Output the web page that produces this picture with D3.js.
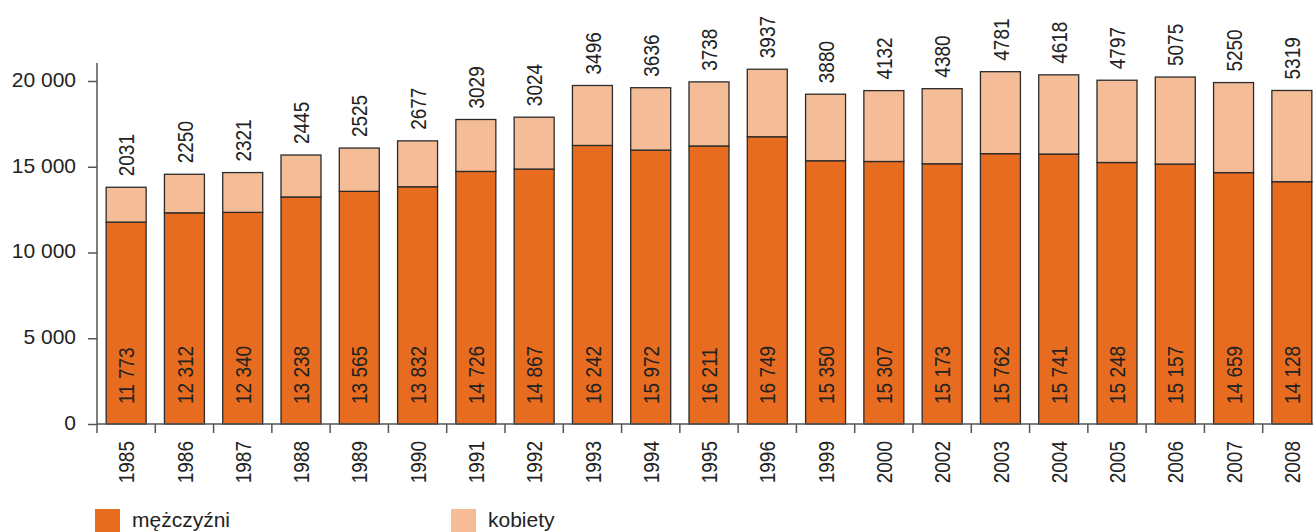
<!DOCTYPE html>
<html>
<head>
<meta charset="utf-8">
<script src="https://cdn.jsdelivr.net/npm/d3@7"></script>
<style>
  html, body { margin: 0; padding: 0; background: #fff; }
  svg { display: block; }
  text { font-family: "Liberation Sans", Arial, Helvetica, sans-serif; fill: #222; }
</style>
</head>
<body>
<svg id="chart" width="1313" height="532"></svg>
<script>
const years = ["1985","1986","1987","1988","1989","1990","1991","1992","1993","1994","1995","1996","1999","2000","2002","2003","2004","2005","2006","2007","2008"];
const men = [11773,12312,12340,13238,13565,13832,14726,14867,16242,15972,16211,16749,15350,15307,15173,15762,15741,15248,15157,14659,14128];
const women = [2031,2250,2321,2445,2525,2677,3029,3024,3496,3636,3738,3937,3880,4132,4380,4781,4618,4797,5075,5250,5319];
const yTicks = [0,5000,10000,15000,20000];
const seriesNames = ["mężczyźni","kobiety"];
const colors = ["#E86C20","#F5BD97"];

const svg = d3.select("#chart");
const x = d3.scaleBand().domain(years).range([97, 1321]).paddingInner(0.314).paddingOuter(0.157);
const y = d3.scaleLinear().domain([0, 20000]).range([424, 81]);
const fmt = v => d3.format(",")(v).replace(/,/g, " ");
const rot = "rotate(-90) scale(1,1.18)";

const rows = years.map((yr, i) => ({year: yr, men: men[i], women: women[i]}));
const stacked = d3.stack().keys(["men","women"])(rows);

// bars
stacked.forEach((s, si) => {
  svg.append("g").selectAll("rect").data(s).join("rect")
    .attr("x", d => x(d.data.year))
    .attr("y", d => y(d[1]))
    .attr("width", x.bandwidth())
    .attr("height", d => y(d[0]) - y(d[1]))
    .attr("fill", colors[si])
    .attr("stroke", "#2b2b2b")
    .attr("stroke-width", 1.3);
});

// y axis
const yAxis = d3.axisLeft(y).tickValues(yTicks).tickSize(9).tickPadding(12).tickFormat(fmt);
const gy = svg.append("g").attr("transform", "translate(97,0)").call(yAxis);
gy.select(".domain").remove();
gy.append("line").attr("x1", 0).attr("x2", 0).attr("y1", 63).attr("y2", 424).attr("stroke", "#555").attr("stroke-width", 1.5);
gy.selectAll(".tick line").attr("stroke", "#555").attr("stroke-width", 1.5);
gy.selectAll(".tick text").style("font-size", "21px").attr("fill", "#222").attr("dy", "0.25em")
  .style("font-family", "'Liberation Sans', Arial, sans-serif");

// x axis
const gx = svg.append("g");
gx.append("line").attr("x1", 97).attr("x2", 1313).attr("y1", y(0)).attr("y2", y(0)).attr("stroke", "#555").attr("stroke-width", 1.5);
const step = x.step();
const bounds = years.map(yr => x(yr) - x.paddingOuter() * step);
gx.selectAll("line.t").data(bounds).join("line").attr("class", "t")
  .attr("x1", d => d).attr("x2", d => d).attr("y1", y(0)).attr("y2", y(0) + 9)
  .attr("stroke", "#555").attr("stroke-width", 1.5);
gx.selectAll("text").data(years).join("text")
  .attr("transform", d => `translate(${x(d) + x.bandwidth()/2},${y(0) + 17}) ${rot}`)
  .attr("text-anchor", "end").attr("dy", "0.36em")
  .style("font-size", "19px").text(d => d);

// women labels (above bars)
svg.append("g").selectAll("text").data(stacked[1]).join("text")
  .attr("transform", d => `translate(${x(d.data.year) + x.bandwidth()/2},${y(d[1]) - 11}) ${rot}`)
  .attr("text-anchor", "start").attr("dy", "0.36em")
  .style("font-size", "19px").text(d => d.data.women);

// men labels (inside bars)
svg.append("g").selectAll("text").data(stacked[0]).join("text")
  .attr("transform", d => `translate(${x(d.data.year) + x.bandwidth()/2},${y(0) - 20}) ${rot}`)
  .attr("text-anchor", "start").attr("dy", "0.36em")
  .style("font-size", "19px").text(d => fmt(d.data.men));

// legend
const legX = [95, 451];
const lg = svg.append("g");
seriesNames.forEach((n, i) => {
  lg.append("rect").attr("x", legX[i]).attr("y", 509).attr("width", 25).attr("height", 25).attr("fill", colors[i]);
  lg.append("text").attr("x", legX[i] + 37).attr("y", 527).style("font-size", "21px").text(n);
});
</script>
</body>
</html>
